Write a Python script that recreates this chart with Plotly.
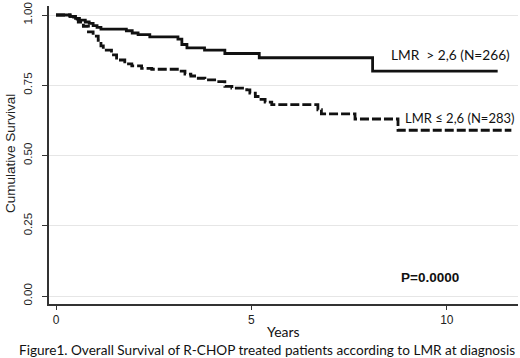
import plotly.graph_objects as go

# Kaplan-Meier step data
years_high = [0, 0.36, 0.5, 0.6, 0.75, 0.85, 0.95, 1.05, 1.15, 1.8, 1.95, 2.1, 2.4, 3.12, 3.22, 3.35, 3.8, 4.32, 5.2, 8.1, 11.3]
surv_high = [1.0, 0.995, 0.988, 0.982, 0.975, 0.97, 0.962, 0.956, 0.95, 0.944, 0.936, 0.93, 0.922, 0.914, 0.895, 0.883, 0.875, 0.863, 0.848, 0.80, 0.80]

years_low = [0, 0.36, 0.45, 0.57, 0.7, 0.83, 0.95, 1.08, 1.15, 1.21, 1.42, 1.55, 1.76, 1.94, 2.19, 2.45,
             3.15, 3.3, 3.45, 3.64, 3.81, 4.1, 4.32, 4.5, 4.88, 4.96, 5.1, 5.17, 5.35, 5.52, 6.7, 6.79, 7.65, 8.75, 11.65]
surv_low = [1.0, 0.995, 0.985, 0.975, 0.96, 0.94, 0.925, 0.91, 0.89, 0.875, 0.858, 0.84, 0.826, 0.819, 0.81, 0.807,
            0.80, 0.79, 0.783, 0.775, 0.769, 0.763, 0.746, 0.74, 0.734, 0.722, 0.71, 0.70, 0.69, 0.681, 0.663, 0.648, 0.63, 0.59, 0.59]

x_ticks = [0, 5, 10]
y_ticks = [0, 0.25, 0.5, 0.75, 1.0]
y_tick_labels = ["0.00", "0.25", "0.50", "0.75", "1.00"]

label_high = "LMR\u00a0 > 2,6 (N=266)"
label_low = "LMR ≤ 2,6 (N=283)"
p_text = "P=0.0000"
caption = "Figure1. Overall Survival of R-CHOP treated patients according to LMR at diagnosis"

fig = go.Figure()
fig.add_trace(go.Scatter(x=years_high, y=surv_high, mode="lines", line=dict(shape="hv", color="#111", width=2.8),
                         showlegend=False, hoverinfo="skip"))
fig.add_trace(go.Scatter(x=years_low, y=surv_low, mode="lines",
                         line=dict(shape="hv", color="#111", width=2.8, dash="9px,3px"),
                         showlegend=False, hoverinfo="skip"))

calib = "Lato, 'Open Sans', sans-serif"
arial = "'Liberation Sans', Arial, sans-serif"

fig.update_layout(
    width=520, height=358,
    margin=dict(l=49, r=2, t=4, b=54),
    paper_bgcolor="white", plot_bgcolor="white",
    xaxis=dict(range=[-0.179, 11.82], tickvals=x_ticks, ticks="outside", ticklen=4, tickcolor="#333",
               showline=True, linecolor="#333", linewidth=1.5, showgrid=False, zeroline=False,
               tickfont=dict(family=arial, size=12, color="#222")),
    yaxis=dict(range=[-0.028, 1.032], tickvals=y_ticks, ticktext=y_tick_labels, tickangle=-90,
               ticks="outside", ticklen=5, tickcolor="#333", ticklabelstandoff=6,
               showline=True, linecolor="#333", linewidth=1.5, showgrid=True, gridcolor="#e6e6e6", gridwidth=1,
               zeroline=False, tickfont=dict(family=arial, size=11.5, color="#222")),
    annotations=[
        dict(text=label_high, x=8.52, y=0.859, xref="x", yref="y", xanchor="left", yanchor="middle",
             showarrow=False, font=dict(family=calib, size=13.7, color="#111")),
        dict(text=label_low, x=11.78, y=0.6325, xref="x", yref="y", xanchor="right", yanchor="middle",
             showarrow=False, font=dict(family=calib, size=13, color="#111")),
        dict(text="<b>" + p_text + "</b>", x=9.565, y=0.067, xref="x", yref="y", xanchor="center", yanchor="middle",
             showarrow=False, font=dict(family=arial, size=13.5, color="#111")),
        dict(text="Years", x=0.5, y=-0.0933, xref="paper", yref="paper", xanchor="center", yanchor="middle",
             showarrow=False, font=dict(family=calib, size=14, color="#111")),
        dict(text=caption, x=0.4648, y=-0.1533, xref="paper", yref="paper", xanchor="center", yanchor="middle",
             showarrow=False, font=dict(family=calib, size=13.6, color="#111")),
        dict(text="Cumulative Survival", x=-0.0832, y=0.5067, xref="paper", yref="paper", xanchor="center",
             yanchor="middle", textangle=-90, showarrow=False, font=dict(family=arial, size=13.5, color="#222")),
    ],
)

fig.write_html("out.html", config={"displayModeBar": False},
               post_script="document.body.style.margin='0px';document.body.style.overflow='hidden';")
